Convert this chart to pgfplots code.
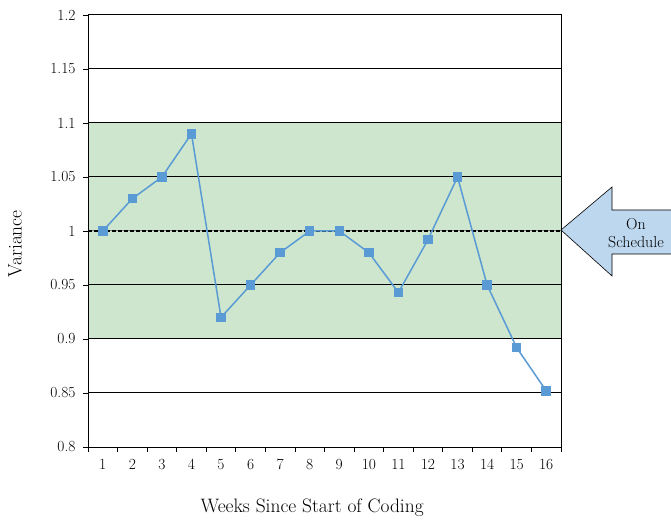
\documentclass[border=0pt]{standalone}
\usepackage{pgfplots}
\pgfplotsset{compat=1.18}
\definecolor{bandgreen}{RGB}{205,230,205}
\definecolor{lineblue}{RGB}{91,155,213}
\definecolor{arrowblue}{RGB}{189,215,238}
\begin{document}
\begin{tikzpicture}
\begin{axis}[
  set layers,
  scale only axis, width=473bp, height=432bp,
  xmin=0.5, xmax=16.5, ymin=0.8, ymax=1.2,
  xtick={1,...,16},
  major x tick style={draw=none},
  minor xtick={0.5,1.5,...,16.5},
  ytick={0.8,0.85,0.9,0.95,1,1.05,1.1,1.15,1.2},
  yticklabels={0.8,0.85,0.9,0.95,1,1.05,1.1,1.15,1.2},
  xtick pos=left, ytick pos=left,
  tick align=outside,
  major tick length=5bp, minor tick length=5bp,
  tick style={black, line width=0.8bp},
  minor tick style={black, line width=0.8bp},
  extra y ticks={0.85,0.9,0.95,1.05,1.1,1.15},
  extra y tick labels={},
  extra y tick style={grid=major, major tick length=0pt},
  grid style={black, line width=1bp},
  axis line style={black, line width=1bp},
  /pgf/number format/assume math mode=true,
  ticklabel style={font=\fontsize{15.5}{18}\selectfont},
  xticklabel style={yshift=-4bp},
  yticklabel style={xshift=-4bp},
  label style={font=\fontsize{19.5}{23}\selectfont},
  xlabel={Weeks Since Start of Coding},
  ylabel={Variance},
  xlabel style={at={(axis description cs:0.474,-0.141)}, anchor=center},
  ylabel style={at={(axis description cs:-0.154,0.47)}, anchor=center},
]
\addplot[fill=bandgreen, draw=none, on layer=axis background] coordinates {(0.5,0.9) (16.5,0.9) (16.5,1.1) (0.5,1.1) (0.5,0.9)};
\addplot[gray, line width=1bp] coordinates {(0.5,1) (16.5,1)};
\addplot[black, line width=1.2bp, dash pattern=on 4bp off 2bp] coordinates {(0.5,1) (16.5,1)};
\addplot[lineblue, line width=1.5bp, mark=square*, mark size=4bp, mark options={fill=lineblue, draw=lineblue, solid}] coordinates {
(1,1.00) (2,1.03) (3,1.05) (4,1.09) (5,0.92) (6,0.95) (7,0.98) (8,1.00)
(9,1.00) (10,0.98) (11,0.943) (12,0.992) (13,1.05) (14,0.95) (15,0.892) (16,0.852)};
\end{axis}
\draw[black, line width=0.6bp, fill=arrowblue] (473bp,217bp) -- (524bp,260bp) -- (524bp,237bp) -- (595bp,237bp) -- (595bp,193bp) -- (524bp,193bp) -- (524bp,171bp) -- cycle;
\node[align=center, font=\fontsize{16}{18}\selectfont] at (548bp,214bp) {On\\Schedule};
\pgfresetboundingbox
\path[use as bounding box] (-88bp,-73bp) rectangle (583bp,447bp);
\end{tikzpicture}
\end{document}
